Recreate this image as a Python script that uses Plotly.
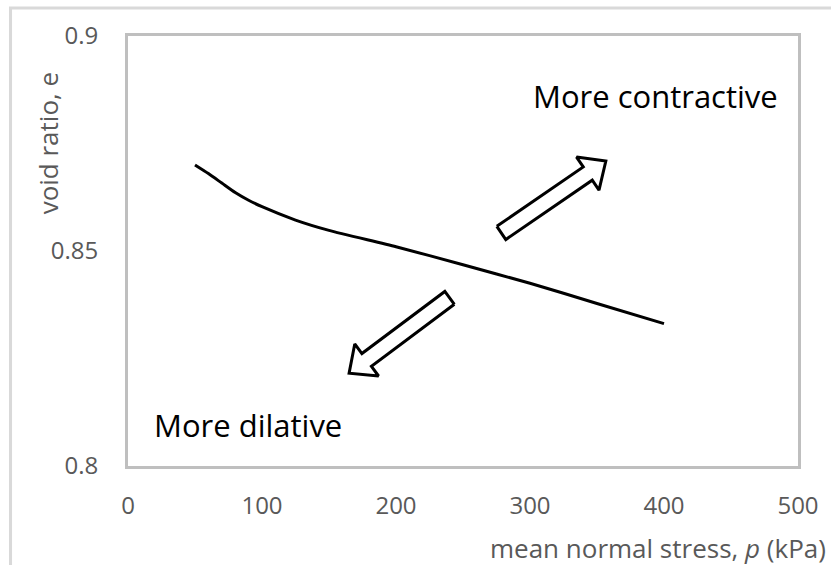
import numpy as np
import plotly.graph_objects as go

# Mean normal stress p (kPa) and void ratio e along the state curve
p_kpa = [50, 60, 70, 80, 90, 100, 125, 150, 200, 250, 300, 350, 400]
void_ratio = [0.870, 0.8680, 0.8658, 0.8636, 0.8618, 0.8603, 0.8572, 0.8548,
              0.8510, 0.8468, 0.8425, 0.8378, 0.8331]

x_ticks = [0, 100, 200, 300, 400, 500]
y_ticks = [0.8, 0.85, 0.9]
y_tick_labels = ["0.8", "0.85", "0.9"]

# Direction arrows: (tail, tip) in data units
arrow_up = [(278.6, 0.8542), (356.6, 0.8709)]
arrow_down = [(240.0, 0.8391), (165.0, 0.8216)]

W, H = 831, 565
M = dict(l=128, r=30, t=36, b=99)
X_RANGE = [0, 500]
Y_RANGE = [0.8, 0.9]
plot_w = W - M["l"] - M["r"]
plot_h = H - M["t"] - M["b"]
sx = plot_w / (X_RANGE[1] - X_RANGE[0])
sy = plot_h / (Y_RANGE[1] - Y_RANGE[0])


def block_arrow(tail, tip, shaft=8.0, head=20.0, head_len=22.0):
    """Outline of a hollow block arrow, built in screen space, returned in data units."""
    tx, ty = tail[0] * sx, tail[1] * sy
    px, py = tip[0] * sx, tip[1] * sy
    d = np.array([px - tx, py - ty])
    u = d / np.linalg.norm(d)
    n = np.array([-u[1], u[0]])
    T = np.array([tx, ty])
    P = np.array([px, py])
    B = P - head_len * u
    pts = [T + shaft * n, B + shaft * n, B + head * n, P,
           B - head * n, B - shaft * n, T - shaft * n, T + shaft * n]
    xs = [q[0] / sx for q in pts]
    ys = [q[1] / sy for q in pts]
    return xs, ys


fig = go.Figure()

fig.add_trace(go.Scatter(
    x=p_kpa, y=void_ratio, mode="lines",
    line=dict(color="black", width=3, shape="spline", smoothing=0.6),
    hoverinfo="skip", showlegend=False,
))

for arr in (arrow_up, arrow_down):
    xs, ys = block_arrow(arr[0], arr[1])
    fig.add_trace(go.Scatter(
        x=xs, y=ys, mode="lines", fill="toself", fillcolor="white",
        line=dict(color="black", width=3),
        hoverinfo="skip", showlegend=False,
    ))

FONT = "Open Sans"
GREY = "#595959"

fig.update_xaxes(
    range=X_RANGE, tickvals=x_ticks, ticktext=[str(v) for v in x_ticks],
    showgrid=False, zeroline=False, ticks="",
    showline=True, mirror=True, linecolor="#bfbfbf", linewidth=3,
    tickfont=dict(family=FONT, size=24, color=GREY),
    ticklabelstandoff=16,
)
fig.update_yaxes(
    range=Y_RANGE, tickvals=y_ticks, ticktext=y_tick_labels,
    showgrid=False, zeroline=False, ticks="",
    showline=True, mirror=True, linecolor="#bfbfbf", linewidth=3,
    tickfont=dict(family=FONT, size=24, color=GREY),
    ticklabelstandoff=22,
)


def px_to_paper_x(px):
    return (px - M["l"]) / plot_w


def px_to_paper_y(py):
    return (H - M["b"] - py) / plot_h


annotations = [
    dict(text="mean normal stress, <i>p</i> (kPa)", xref="paper", yref="paper",
         x=px_to_paper_x(831), y=px_to_paper_y(548), xanchor="right", yanchor="middle",
         showarrow=False, font=dict(family=FONT, size=26, color=GREY)),
    dict(text="void ratio, e", xref="paper", yref="paper",
         x=px_to_paper_x(48), y=px_to_paper_y(143), xanchor="center", yanchor="middle",
         textangle=-90, showarrow=False, font=dict(family=FONT, size=26, color=GREY)),
    dict(text="More contractive", x=301, y=0.886, xanchor="left", yanchor="middle",
         showarrow=False, font=dict(family=FONT, size=31, color="black")),
    dict(text="More dilative", x=17.8, y=0.8095, xanchor="left", yanchor="middle",
         showarrow=False, font=dict(family=FONT, size=31, color="black")),
]

fig.update_layout(
    width=W, height=H, margin=M,
    paper_bgcolor="white", plot_bgcolor="white",
    annotations=annotations,
    shapes=[dict(type="rect", xref="paper", yref="paper",
                 x0=px_to_paper_x(10), x1=px_to_paper_x(900),
                 y0=px_to_paper_y(700), y1=px_to_paper_y(8),
                 line=dict(color="#d9d9d9", width=3), fillcolor="rgba(0,0,0,0)",
                 layer="below")],
)

fig.write_html("out.html")
